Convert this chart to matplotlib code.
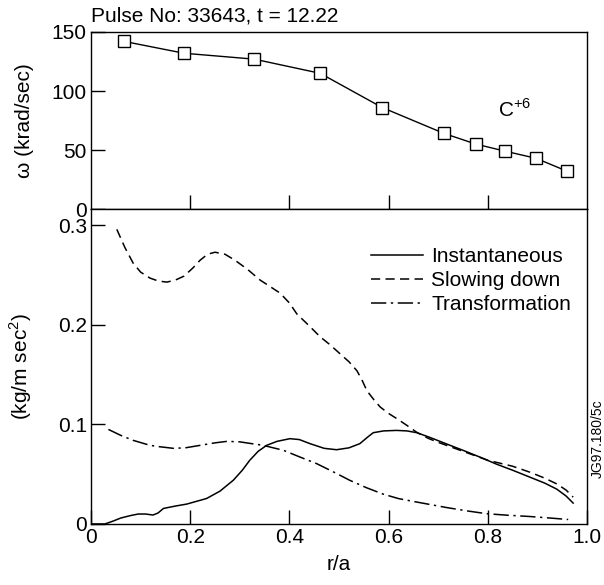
import matplotlib
matplotlib.use("Agg")
import matplotlib.pyplot as plt

plt.rcParams['font.family'] = ['Liberation Sans', 'DejaVu Sans']
plt.rcParams['font.size'] = 15

# omega profile, C+6
r_omega = [0.067, 0.1875, 0.329, 0.462, 0.587, 0.712, 0.776, 0.835, 0.897, 0.960]
omega = [142, 132, 127, 115, 86, 64, 55, 49, 43, 32]

# torque densities
r_inst = [0.0, 0.028, 0.045, 0.06, 0.08, 0.095, 0.11, 0.125, 0.135, 0.146, 0.17,
          0.193, 0.233, 0.26, 0.287, 0.305, 0.32, 0.337, 0.354, 0.375, 0.401, 0.42,
          0.4415, 0.47, 0.495, 0.52, 0.542, 0.557, 0.569, 0.59, 0.616, 0.637, 0.657,
          0.683, 0.724, 0.75, 0.785, 0.818, 0.85, 0.885, 0.915, 0.939, 0.958, 0.972]
inst = [0.0, 0.0, 0.003, 0.006, 0.0085, 0.010, 0.0100, 0.009, 0.011, 0.0156, 0.018,
        0.020, 0.0256, 0.033, 0.044, 0.054, 0.064, 0.073, 0.079, 0.083, 0.0857, 0.0848,
        0.0807, 0.0760, 0.0746, 0.0765, 0.0807, 0.087, 0.0917, 0.0935, 0.094, 0.0935,
        0.0917, 0.087, 0.079, 0.074, 0.067, 0.060, 0.054, 0.047, 0.041, 0.035, 0.028,
        0.021]

r_slow = [0.052, 0.068, 0.085, 0.10, 0.119, 0.136, 0.153, 0.17, 0.1875, 0.205, 0.22,
          0.235, 0.25, 0.27, 0.29, 0.315, 0.341, 0.381, 0.40, 0.415, 0.44, 0.462, 0.482,
          0.502, 0.52, 0.536, 0.546, 0.556, 0.57, 0.583, 0.60, 0.616, 0.637, 0.657, 0.68,
          0.70, 0.75, 0.80, 0.85, 0.885, 0.915, 0.94, 0.958, 0.972]
slow = [0.296, 0.278, 0.262, 0.253, 0.247, 0.244, 0.243, 0.245, 0.249, 0.257, 0.265,
        0.271, 0.273, 0.271, 0.265, 0.256, 0.245, 0.232, 0.222, 0.211, 0.199, 0.188,
        0.180, 0.171, 0.163, 0.154, 0.145, 0.134, 0.125, 0.1175, 0.111, 0.106, 0.099,
        0.092, 0.086, 0.082, 0.073, 0.064, 0.058, 0.052, 0.046, 0.040, 0.034, 0.027]

r_trans = [0.035, 0.06, 0.085, 0.119, 0.14, 0.166, 0.19, 0.22, 0.25, 0.274, 0.30,
           0.32, 0.347, 0.388, 0.42, 0.455, 0.49, 0.522, 0.555, 0.589, 0.62, 0.657,
           0.717, 0.76, 0.798, 0.84, 0.885, 0.925, 0.962]
trans = [0.095, 0.089, 0.084, 0.079, 0.0775, 0.076, 0.0765, 0.079, 0.0815, 0.083,
         0.0825, 0.081, 0.079, 0.074, 0.0675, 0.0606, 0.052, 0.0438, 0.0365, 0.030,
         0.0255, 0.022, 0.0165, 0.013, 0.0103, 0.0088, 0.0075, 0.006, 0.0045]

fig = plt.figure(figsize=(6.04, 5.85), dpi=100)
L, R = 0.1507, 0.9719
ax1 = fig.add_axes([L, 0.6427, R - L, 0.9453 - 0.6427])
ax2 = fig.add_axes([L, 0.1043, R - L, 0.6427 - 0.1043])

ax1.plot(r_omega, omega, color='black', lw=1, marker='s', ms=8,
         mfc='white', mec='black', mew=1)
ax1.set_xlim(0, 1)
ax1.set_ylim(0, 150)
ax1.set_yticks([0, 50, 100, 150])
ax1.set_xticks([0.2, 0.4, 0.6, 0.8])
ax1.tick_params(axis='x', labelbottom=False)
ax1.set_ylabel('ω (krad/sec)')
ax1.text(0.855, 84, 'C$^{\\mathregular{+6}}$', ha='center', va='center')
ax1.text(0, 1.035, 'Pulse No: 33643, t = 12.22', transform=ax1.transAxes,
         ha='left', va='bottom')

ax2.plot(r_inst, inst, color='black', lw=1.1, label='Instantaneous')
ax2.plot(r_slow, slow, color='black', lw=1.1, dashes=(6, 3.5), label='Slowing down')
ax2.plot(r_trans, trans, color='black', lw=1.1, dashes=(10, 3, 1.5, 3),
         label='Transformation')
ax2.set_xlim(0, 1)
ax2.set_ylim(0, 0.3164)
ax2.set_yticks([0, 0.1, 0.2, 0.3])
ax2.set_yticklabels(['0', '0.1', '0.2', '0.3'])
ax2.set_xticks([0, 0.2, 0.4, 0.6, 0.8, 1.0])
ax2.set_xticklabels(['0', '0.2', '0.4', '0.6', '0.8', '1.0'])
ax2.set_xlabel('r/a', labelpad=6)
ax2.set_ylabel('(kg/m sec$^{\\mathregular{2}}$)')
ax2.legend(loc='upper left', bbox_to_anchor=(0.5645, 0.88), frameon=False,
           borderpad=0, borderaxespad=0, handlelength=2.5, handletextpad=0.4,
           labelspacing=0.25)

for ax in (ax1, ax2):
    ax.tick_params(direction='in', length=10, width=1, pad=3, top=False, right=False)
    for s in ax.spines.values():
        s.set_linewidth(1)
    ax.yaxis.set_label_coords(-0.115, 0.5)

fig.text(0.99, 0.25, 'JG97.180/5c', rotation=90, fontsize=10,
         ha='center', va='center')
fig.savefig('out.png', dpi=100)
